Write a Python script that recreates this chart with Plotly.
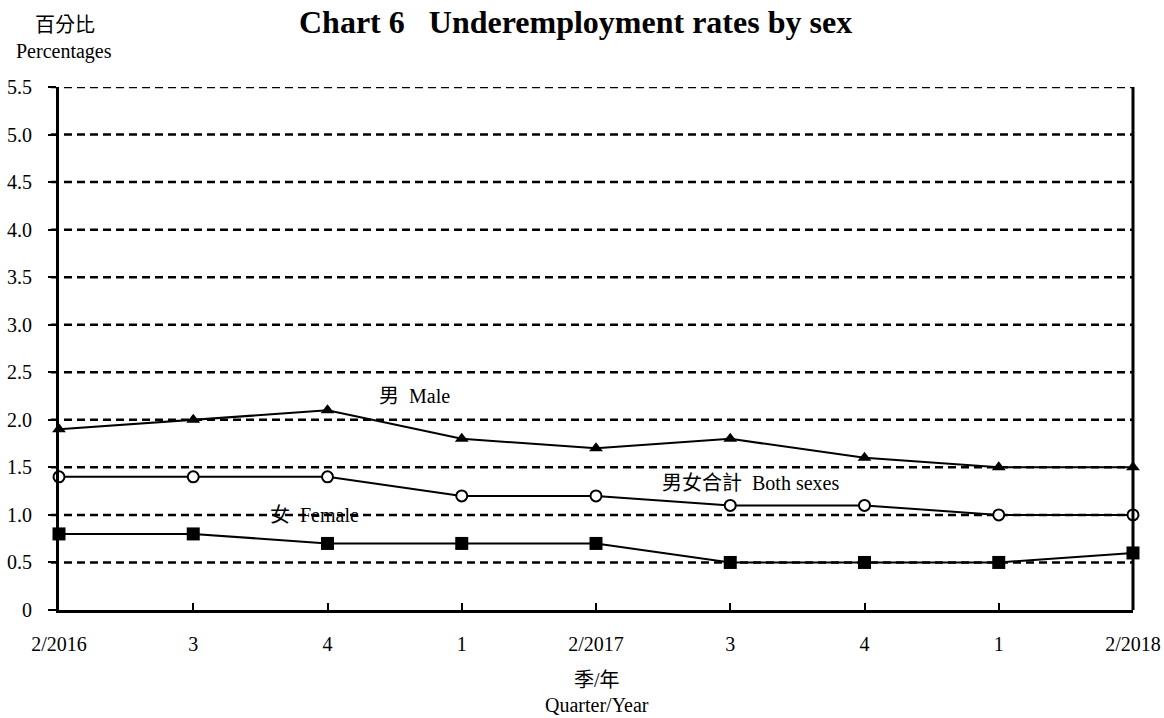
import plotly.graph_objects as go

quarters = ["2/2016", "3", "4", "1", "2/2017", "3", "4", "1", "2/2018"]
male = [1.9, 2.0, 2.1, 1.8, 1.7, 1.8, 1.6, 1.5, 1.5]
both = [1.4, 1.4, 1.4, 1.2, 1.2, 1.1, 1.1, 1.0, 1.0]
female = [0.8, 0.8, 0.7, 0.7, 0.7, 0.5, 0.5, 0.5, 0.6]
y_ticks = [0, 0.5, 1.0, 1.5, 2.0, 2.5, 3.0, 3.5, 4.0, 4.5, 5.0, 5.5]
y_tick_text = ["0", "0.5", "1.0", "1.5", "2.0", "2.5", "3.0", "3.5", "4.0", "4.5", "5.0", "5.5"]

FONT = "Liberation Serif, Times New Roman, Noto Sans CJK TC, serif"
FS = 20
xi = list(range(len(quarters)))

# page geometry (body margin removed via post_script)
PL, PR, PT, PB = 59, 1133, 87, 610
PW, PH = PR - PL, PB - PT


def px(x):
    return (x - PL) / PW


def py(y):
    return (PB - y) / PH


fig = go.Figure()
for v in y_ticks[1:]:
    fig.add_shape(type="line", xref="paper", yref="y", x0=-8 / PW, x1=1, y0=v, y1=v,
                  line=dict(color="black", width=2.5, dash="8px,5px"), layer="below")

fig.add_trace(go.Scatter(x=xi, y=male, mode="lines+markers", name="Male",
                         line=dict(color="black", width=2),
                         marker=dict(symbol="triangle-up", size=12, color="black"),
                         cliponaxis=False))
fig.add_trace(go.Scatter(x=xi, y=both, mode="lines+markers", name="Both sexes",
                         line=dict(color="black", width=2),
                         marker=dict(symbol="circle", size=11, color="white",
                                     line=dict(color="black", width=2)),
                         cliponaxis=False))
fig.add_trace(go.Scatter(x=xi, y=female, mode="lines+markers", name="Female",
                         line=dict(color="black", width=2),
                         marker=dict(symbol="square", size=13, color="black"),
                         cliponaxis=False))

fig.update_xaxes(range=[0, 8], tickmode="array", tickvals=xi, ticktext=quarters,
                 automargin=False,
                 showgrid=False, zeroline=False, showline=True, linecolor="black",
                 linewidth=3, ticks="inside", ticklen=7, tickwidth=2, tickcolor="black",
                 ticklabelstandoff=14, tickfont=dict(family=FONT, size=FS, color="black"))
fig.update_yaxes(range=[0, 5.5], tickmode="array", tickvals=y_ticks, ticktext=y_tick_text,
                 automargin=False,
                 showgrid=False, zeroline=False, showline=True, linecolor="black",
                 linewidth=3, ticks="outside", ticklen=8, tickwidth=2, tickcolor="black",
                 ticklabelstandoff=12, tickfont=dict(family=FONT, size=FS, color="black"))

fig.add_shape(type="line", xref="paper", yref="paper", x0=1, x1=1, y0=0, y1=1,
              line=dict(color="black", width=3))

anns = [
    dict(x=2.65, y=2.25, text="男  Male"),
    dict(x=5.15, y=1.335, text="男女合計  Both sexes"),
    dict(x=1.9, y=1.0, text="女  Female"),
]
for a in anns:
    fig.add_annotation(**a, xref="x", yref="y", showarrow=False,
                       font=dict(family=FONT, size=FS, color="black"))

page_texts = [
    (65, 25, "百分比"),
    (64, 52, "Percentages"),
    (597, 680, "季/年"),
    (597, 705, "Quarter/Year"),
]
for x, y, t in page_texts:
    fig.add_annotation(xref="paper", yref="paper", x=px(x), y=py(y), text=t,
                       showarrow=False, xanchor="center", yanchor="middle",
                       font=dict(family=FONT, size=FS, color="black"))

fig.add_annotation(xref="paper", yref="paper", x=px(575), y=py(2),
                   text="<b>Chart 6   Underemployment rates by sex</b>",
                   showarrow=False, xanchor="center", yanchor="top",
                   font=dict(family=FONT, size=32, color="black"))

fig.update_layout(
    width=1164, height=718,
    margin=dict(l=PL, r=1164 - PR, t=PT, b=718 - PB, autoexpand=False),
    plot_bgcolor="white", paper_bgcolor="white",
    showlegend=False,
)

fig.write_html("out.html", config={"displayModeBar": False},
               post_script="document.body.style.margin='0';document.body.style.overflow='hidden';")
